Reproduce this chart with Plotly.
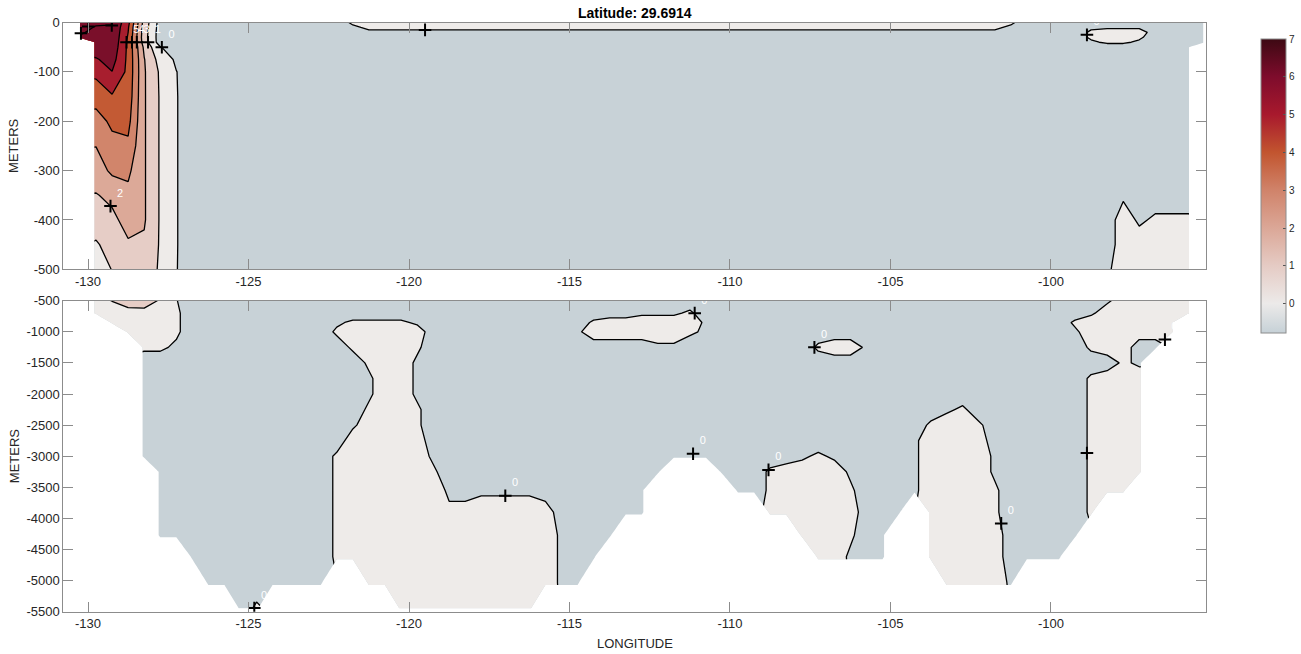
import numpy as np
import plotly.graph_objects as go

NAN = float("nan")

# ---- grid -------------------------------------------------------------
# longitude nodes of the section (deg), 0.5 deg apart
LON = [round(float(v), 2) for v in np.arange(-130.25, -95.24, 0.5)]

# depth levels (m)
DEPTH = [0, -10, -20, -30, -40, -50, -75, -100, -150, -200, -250, -300, -350, -400, -450, -500,
         -700, -850, -1000, -1250, -1500, -1750, -2000, -2250, -2500, -2750, -3000, -3250,
         -3550, -3900, -4270, -4615, -5030, -5450]

# upper-ocean core at the western end: first 8 longitudes, 0-500 m
#        -130.25 -129.75 -129.25 -128.75 -128.25 -127.75 -127.25 -126.75
CORE = [
    [7.30, 7.10, 7.05, 5.30, 1.60, -0.40, -0.90, -0.90],   # 0
    [7.20, 6.95, 6.95, 5.10, 1.50, -0.45, -0.90, -0.90],   # -10
    [7.05, 6.90, 6.90, 5.00, 1.45, -0.50, -0.85, -0.90],   # -20
    [6.95, 6.85, 6.85, 4.90, 1.40, -0.50, -0.80, -0.85],   # -30
    [NAN, 6.75, 6.80, 4.80, 1.50, -0.50, -0.70, -0.80],    # -40
    [NAN, 6.60, 6.70, 4.78, 1.80, 0.05, -0.50, -0.70],     # -50
    [NAN, 5.90, 6.40, 4.76, 2.05, 0.60, -0.15, -0.50],     # -75
    [NAN, 5.25, 5.98, 4.75, 2.10, 0.85, 0.02, -0.40],      # -100
    [NAN, 4.40, 4.90, 4.60, 2.10, 0.90, 0.04, -0.40],      # -150
    [NAN, 3.60, 4.20, 4.30, 2.10, 0.90, 0.04, -0.40],      # -200
    [NAN, 3.02, 3.70, 3.80, 2.10, 0.90, 0.04, -0.40],      # -250
    [NAN, 2.50, 3.20, 3.20, 2.10, 0.90, 0.04, -0.40],      # -300
    [NAN, 1.95, 2.20, 2.75, 2.10, 0.90, 0.04, -0.40],      # -350
    [NAN, 1.45, 1.80, 2.30, 2.10, 0.90, 0.04, -0.40],      # -400
    [NAN, 0.90, 1.35, 1.90, 1.85, 0.90, 0.04, -0.40],      # -450
    [NAN, 0.70, 1.02, 1.50, 1.60, 0.86, 0.03, -0.40],      # -500
]

# class values of the run-length rows below
SYMBOL_VALUE = {"=": -0.6, "-": -0.2, "+": 0.2, "#": 0.6, ".": NAN}

# section rows, run-length coded as "count+symbol", one row per depth level;
# "*" is taken from CORE, "." lies below the sea floor
SECTION = [
    "8* 9= 42+ 12=",                                                   # 0
    "8* 9= 1- 40+ 1- 4= 4- 4=",                                        # -10
    "8* 9= 42- 4= 1+ 3# 4=",                                           # -20
    "8* 55= 1+ 2# 1+ 4=",                                              # -30
    "8* 55= 1- 2+ 1- 4=",                                              # -40
    "8* 62= 1.",                                                       # -50
    "8* 62= 1.",                                                       # -75
    "8* 62= 1.",                                                       # -100
    "8* 62= 1.",                                                       # -150
    "8* 62= 1.",                                                       # -200
    "8* 62= 1.",                                                       # -250
    "8* 62= 1.",                                                       # -300
    "8* 57= 1- 4= 1.",                                                 # -350
    "8* 57= 1# 1- 3+ 1.",                                              # -400
    "8* 57= 5# 1.",                                                    # -450
    "8* 56= 1- 5# 1.",                                                 # -500
    "1. 5# 1+ 26= 5- 1+ 24= 1- 6# 1.",                                 # -700
    "2. 4# 1+ 9= 1- 4+ 1- 10= 3+ 4# 1- 22= 1+ 6# 2.",                  # -850
    "3. 3# 1+ 9= 1+ 5# 9= 1- 6# 1+ 1- 22= 1- 6# 2.",                   # -1000
    "4. 2+ 1- 10= 1+ 3# 1+ 14= 2- 8= 1+ 2# 1- 13= 1+ 2# 2= 3.",        # -1250
    "4. 14= 1+ 2# 1- 43= 1+ 1- 4.",                                    # -1500
    "4. 14= 1- 2# 1- 41= 1+ 3# 4.",                                    # -1750
    "4. 14= 1- 2# 1- 41= 1+ 3# 4.",                                    # -2000
    "4. 14= 1+ 2# 1+ 32= 1- 1+ 7= 1+ 3# 4.",                           # -2250
    "4. 13= 1- 3# 1+ 31= 1+ 2# 1+ 6= 1+ 3# 4.",                        # -2500
    "4. 13= 5# 30= 1- 3# 1+ 1- 5= 1+ 3# 4.",                           # -2750
    "4. 12= 1+ 5# 1- 21= 2- 1+ 1- 4= 1- 4# 1- 5= 1+ 3# 4.",            # -3000
    "5. 11= 1+ 5# 1+ 14= 3. 3= 2+ 3# 1- 3= 1- 4# 1- 5= 1+ 3# 4.",      # -3250
    "5. 11= 1+ 6# 7- 6= 5. 2= 1+ 4# 1+ 3= 1- 4# 1+ 5= 1+ 2# 5.",       # -3550
    "5. 11= 1+ 6# 2+ 4# 1+ 1- 5= 7. 1+ 5# 3= 1. 4# 1+ 5= 1+ 7.",       # -3900
    "5. 11= 1+ 13# 1- 3= 11. 3# 1+ 2= 2. 4# 1+ 1- 4= 8.",              # -4270
    "7. 9= 1+ 13# 1- 2= 13. 2# 1- 2= 2. 4# 1+ 1- 3= 9.",               # -4615
    "8. 8= 2. 12# 1- 1= 22. 4# 1- 12.",                                # -5030
    "10. 1= 1+ 8. 9# 42.",                                             # -5450
]

# contour levels and fill colours (below 0, 0-1, ..., 6-7, above 7)
LEVEL_START, LEVEL_END, LEVEL_STEP = 0, 7, 1
BAND_COLORS = ["#c8d2d7", "#eeebe9", "#e6cdc6", "#dca998", "#d1856b",
               "#c35a34", "#a81e2e", "#7a0f2a", "#7a0f2a"]

# colour bar
CBAR_MIN, CBAR_MAX = -0.78, 7
CBAR_STOPS = [(-0.78, "#c6d1d7"), (0, "#eceae9"), (1, "#e5cbc4"), (2, "#dba797"),
              (3, "#d0836a"), (4, "#c2552f"), (5, "#a8192d"), (6, "#7e0c2c"), (7, "#3d0913")]
CBAR_TICKS = [0, 1, 2, 3, 4, 5, 6, 7]

# contour labels
TOP_LABEL_LON = [-130.22, -129.99, -129.26, -128.8, -128.63, -128.48, -128.13, -127.7,
                 -129.3, -119.5, -98.88]
TOP_LABEL_DEPTH = [-22, -8, -6, -40, -40, -40, -40, -50, -372, -15, -25]
TOP_LABEL_TEXT = ["", "", "", "5", "4", "3", "1", "0", "2", "0", "0"]

BOTTOM_LABEL_LON = [-111.1, -107.37, -96.45, -111.15, -108.8, -117.0, -98.88, -101.55, -124.82]
BOTTOM_LABEL_DEPTH = [-700, -1250, -1125, -2960, -3220, -3637, -2950, -4080, -5440]
BOTTOM_LABEL_TEXT = ["0", "0", "0", "0", "0", "0", "", "0", "0"]

XTICKS = [-130, -125, -120, -115, -110, -105, -100]
TOP_YTICKS = [0, -100, -200, -300, -400, -500]
BOTTOM_YTICKS = [-500, -1000, -1500, -2000, -2500, -3000, -3500, -4000, -4500, -5000, -5500]
X_RANGE = [-130.77, -95.18]


def decode(row):
    cells = []
    for tok in row.split():
        cells.extend([tok[-1]] * int(tok[:-1]))
    return cells


assert len(SECTION) == len(DEPTH)
field = []
for i, row in enumerate(SECTION):
    cells = decode(row)
    assert len(cells) == len(LON), (i, len(cells))
    field.append([CORE[i][j] if s == "*" else SYMBOL_VALUE[s] for j, s in enumerate(cells)])

n_bands = len(BAND_COLORS) - 1
band_scale = [[k / n_bands, c] for k, c in enumerate(BAND_COLORS)]
cbar_scale = [[(v - CBAR_MIN) / (CBAR_MAX - CBAR_MIN), c] for v, c in CBAR_STOPS]

FONT = "Liberation Sans, Arial, Helvetica, sans-serif"
TXT = "#262626"
FRAME = "#8c8c8c"

fig = go.Figure()

for xa, ya in (("x", "y"), ("x2", "y2")):
    fig.add_trace(go.Contour(
        x=LON, y=DEPTH, z=field, xaxis=xa, yaxis=ya,
        connectgaps=False,
        autocontour=False,
        contours=dict(start=LEVEL_START, end=LEVEL_END, size=LEVEL_STEP,
                      coloring="fill", showlabels=False),
        colorscale=band_scale, showscale=False,
        line=dict(color="black", width=1.3, smoothing=0),
        hoverinfo="skip",
    ))

for lon, dep, txt, xa, ya in ((TOP_LABEL_LON, TOP_LABEL_DEPTH, TOP_LABEL_TEXT, "x", "y"),
                              (BOTTOM_LABEL_LON, BOTTOM_LABEL_DEPTH, BOTTOM_LABEL_TEXT, "x2", "y2")):
    fig.add_trace(go.Scatter(
        x=lon, y=dep, text=txt, xaxis=xa, yaxis=ya,
        mode="markers+text", textposition="top right",
        textfont=dict(family=FONT, size=11, color="white"),
        marker=dict(symbol="cross-thin", size=9, line=dict(width=2, color="black")),
        hoverinfo="skip", showlegend=False,
    ))

# colour bar carrier (point sits outside the visible range)
fig.add_trace(go.Scatter(
    x=[-140], y=[100], mode="markers", xaxis="x", yaxis="y",
    marker=dict(color=[0], cmin=CBAR_MIN, cmax=CBAR_MAX, colorscale=cbar_scale, size=1,
                showscale=True,
                colorbar=dict(x=1261 / 1301, xanchor="left", xpad=0, ypad=0,
                              y=1 - 186.2 / 654, yanchor="middle",
                              len=294.3 / 654, lenmode="fraction",
                              thickness=25, thicknessmode="pixels",
                              outlinewidth=1, outlinecolor=FRAME,
                              tickvals=CBAR_TICKS, ticktext=[str(t) for t in CBAR_TICKS],
                              ticks="inside", ticklen=3, tickcolor="#555555",
                              tickfont=dict(family=FONT, size=10, color=TXT))),
    hoverinfo="skip", showlegend=False,
))

XDOM = [63.3 / 1301, 1205.7 / 1301]
TOP_DOM = [1 - 269.3 / 654, 1 - 22.5 / 654]
BOT_DOM = [1 - 611.7 / 654, 1 - 300.7 / 654]


def xaxis(anchor):
    return dict(domain=XDOM, range=X_RANGE, anchor=anchor, tickvals=XTICKS,
                ticktext=[str(t) for t in XTICKS], ticks="inside", ticklen=10,
                tickcolor=FRAME, mirror="ticks", showline=True, linecolor=FRAME,
                linewidth=1, showgrid=False, zeroline=False, automargin=False,
                tickfont=dict(family=FONT, size=13, color=TXT))


def yaxis(anchor, dom, rng, ticks):
    return dict(domain=dom, range=rng, anchor=anchor, tickvals=ticks,
                ticktext=[str(t) for t in ticks], ticks="inside", ticklen=10,
                tickcolor=FRAME, mirror="ticks", showline=True, linecolor=FRAME,
                linewidth=1, showgrid=False, zeroline=False, automargin=False,
                tickfont=dict(family=FONT, size=13, color=TXT))


fig.update_layout(
    template="none",
    width=1301, height=654,
    margin=dict(l=0, r=0, t=0, b=0, autoexpand=False),
    paper_bgcolor="white", plot_bgcolor="white",
    showlegend=False,
    xaxis=xaxis("y"),
    yaxis=yaxis("x", TOP_DOM, [-500, 0], TOP_YTICKS),
    xaxis2=xaxis("y2"),
    yaxis2=yaxis("x2", BOT_DOM, [-5500, -500], BOTTOM_YTICKS),
    annotations=[
        dict(text="<b>Latitude: 29.6914</b>", x=634.5 / 1301, y=1 - 13.3 / 654,
             xref="paper", yref="paper", showarrow=False, xanchor="center", yanchor="middle",
             font=dict(family=FONT, size=14, color="black")),
        dict(text="METERS", x=14 / 1301, y=sum(TOP_DOM) / 2, xref="paper", yref="paper",
             showarrow=False, textangle=-90, xanchor="center", yanchor="middle",
             font=dict(family=FONT, size=13, color=TXT)),
        dict(text="METERS", x=14 / 1301, y=sum(BOT_DOM) / 2, xref="paper", yref="paper",
             showarrow=False, textangle=-90, xanchor="center", yanchor="middle",
             font=dict(family=FONT, size=13, color=TXT)),
        dict(text="LONGITUDE", x=634.5 / 1301, y=1 - 643 / 654, xref="paper", yref="paper",
             showarrow=False, xanchor="center", yanchor="middle",
             font=dict(family=FONT, size=13, color=TXT)),
    ],
)

fig.write_html("out.html")
